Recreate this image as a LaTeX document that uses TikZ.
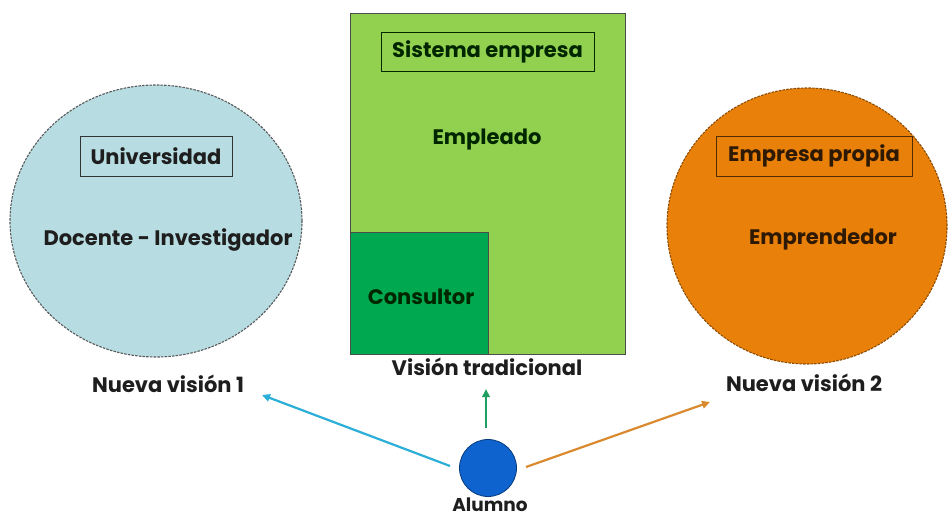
\documentclass[tikz,border=0pt]{standalone}
\usepackage{fontspec}
\setmainfont{Poppins}[BoldFont={* Bold}]
\usetikzlibrary{shapes.geometric,arrows.meta}
\definecolor{lblue}{HTML}{B7DDE3}
\definecolor{lgreen}{HTML}{92D050}
\definecolor{dgreen}{HTML}{00A94F}
\definecolor{orng}{HTML}{E8800A}
\definecolor{ablue}{HTML}{2BAFD8}
\definecolor{agreen}{HTML}{1FA060}
\definecolor{aorng}{HTML}{DA8A2E}
\definecolor{dotblue}{HTML}{0E63CF}
\definecolor{txt}{HTML}{1E1E1E}
\tikzset{
  lbl/.style={font=\bfseries\fontsize{21}{24}\selectfont, text=txt, inner sep=0pt},
  bubble/.style={ellipse, draw=gray!70!black, dashed, dash pattern=on 2.5pt off 1.2pt, line width=1.1pt, inner sep=0pt},
  tagbox/.style={draw, line width=0.9pt, inner sep=0pt, font=\bfseries\fontsize{21}{24}\selectfont},
  arr/.style={line width=2.2pt, -{Triangle[length=8pt,width=7.5pt]}}
}
\begin{document}
\begin{tikzpicture}[x=1pt,y=-1pt]
\useasboundingbox (0,0) rectangle (949,518);
% left circle
\node[bubble, fill=lblue, minimum width=292pt, minimum height=272pt] (uni) at (156,221) {};
\node[tagbox, draw=gray!40!black, minimum width=152pt, minimum height=40pt, text=txt] (unibox) at (156,156) {Universidad};
\node[lbl] (doc) at (168,240) {Docente - Investigador};
\node[lbl] (nv1) at (168,384) {Nueva visión 1};
% center rectangle
\node[draw=black!70, line width=0.9pt, fill=lgreen, minimum width=275pt, minimum height=341pt, inner sep=0pt] (emp) at (487.5,183.5) {};
\node[draw=black!70, line width=0.9pt, fill=dgreen, minimum width=138pt, minimum height=122pt, inner sep=0pt] (cons) at (419,293) {};
\node[tagbox, draw=black!60!green!40!black, minimum width=213pt, minimum height=39pt, text=black!85!green] (sisbox) at (487.5,51.5) {Sistema empresa};
\node[lbl, text=black!85!green] (empl) at (487,140) {Empleado};
\node[lbl, text=black!85!green] (consl) at (421,297) {Consultor};
\node[lbl] (vt) at (487,367) {Visión tradicional};
% right circle
\node[bubble, draw=orng!60!black, fill=orng, minimum width=280pt, minimum height=276pt] (prop) at (807,226) {};
\node[tagbox, draw=orng!35!black, minimum width=196pt, minimum height=40pt, text=orng!20!black] (propbox) at (814,156) {Empresa propia};
\node[lbl, text=orng!20!black] (empr) at (823,240) {Emprendedor};
\node[lbl] (nv2) at (804,383) {Nueva visión 2};
% alumno
\node[circle, fill=dotblue, draw=dotblue!60!black, line width=0.8pt, minimum size=57pt, inner sep=0pt] (al) at (488,468) {};
\node[lbl, font=\bfseries\fontsize{18.5}{21}\selectfont] (all) at (490,505) {Alumno};
% arrows
\coordinate (bs) at (450,466);
\coordinate (bt) at (262,395);
\coordinate (gs) at (486,428);
\coordinate (gt) at (486,389);
\coordinate (os) at (526,467);
\coordinate (ot) at (710,402);
\draw[arr, ablue] (bs) -- (bt);
\draw[arr, agreen] (gs) -- (gt);
\draw[arr, aorng] (os) -- (ot);
\end{tikzpicture}
\end{document}
